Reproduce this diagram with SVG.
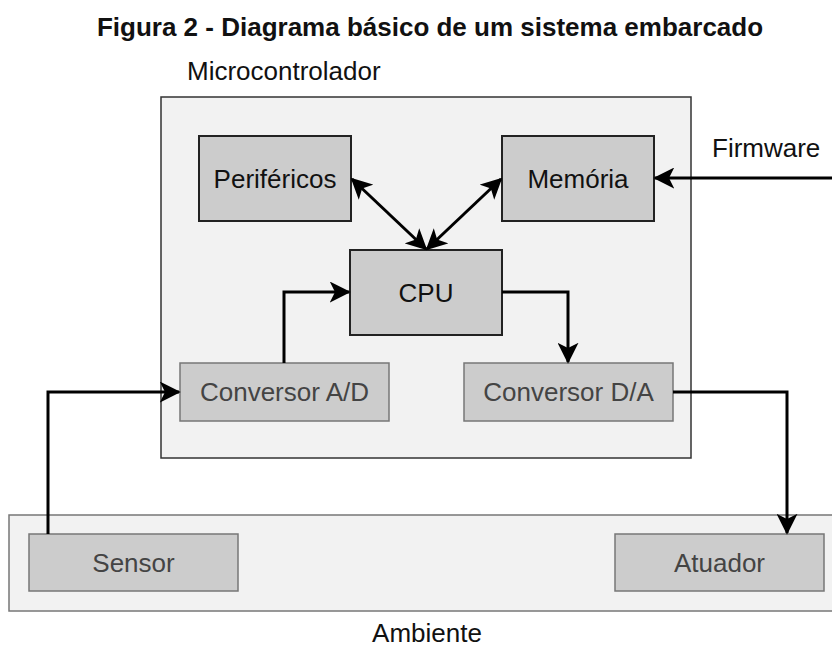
<svg xmlns="http://www.w3.org/2000/svg" width="832" height="648" viewBox="0 0 832 648">
  <style>
    text { font-family: "Liberation Sans", Arial, sans-serif; }
    .title { font-size: 26px; font-weight: bold; fill: #111; }
    .caption { font-size: 26px; fill: #111; }
    .label { font-size: 26px; text-anchor: middle; }
    .group { fill: #f2f2f2; stroke: #333; stroke-width: 1.5; }
    .group-light { fill: #f2f2f2; stroke: #777; stroke-width: 1.5; }
    .block { fill: #cccccc; stroke: #222; stroke-width: 2; }
    .block-light { fill: #cccccc; stroke: #777; stroke-width: 1.5; }
    .dark-text { fill: #111; }
    .light-text { fill: #444; }
    .wire { fill: none; stroke: #000; stroke-width: 3; }
  </style>
  <defs>
    <marker id="arrow" viewBox="0 0 12 12" refX="11" refY="6" markerWidth="7" markerHeight="7" markerUnits="strokeWidth" orient="auto-start-reverse">
      <path d="M0,0 L12,6 L0,12 L3,6 Z" fill="#000"/>
    </marker>
  </defs>

  <rect width="832" height="648" fill="#fff"/>

  <text class="title" x="430" y="36" text-anchor="middle">Figura 2 - Diagrama básico de um sistema embarcado</text>

  <!-- containers -->
  <g id="microcontrolador">
    <rect class="group" x="161" y="97" width="530" height="361"/>
    <text class="caption" x="187" y="80">Microcontrolador</text>
  </g>
  <g id="ambiente">
    <rect class="group-light" x="9" y="515" width="830" height="96"/>
    <text class="caption" x="427" y="642" text-anchor="middle">Ambiente</text>
  </g>

  <!-- blocks -->
  <g id="perifericos">
    <rect class="block" x="199" y="136" width="152" height="85"/>
    <text class="label dark-text" x="275" y="188">Periféricos</text>
  </g>
  <g id="memoria">
    <rect class="block" x="502" y="136" width="152" height="85"/>
    <text class="label dark-text" x="578" y="188">Memória</text>
  </g>
  <g id="cpu">
    <rect class="block" x="350" y="250" width="152" height="85"/>
    <text class="label dark-text" x="426" y="302">CPU</text>
  </g>
  <g id="conversor-ad">
    <rect class="block-light" x="180" y="363" width="209" height="58"/>
    <text class="label light-text" x="284.5" y="401">Conversor A/D</text>
  </g>
  <g id="conversor-da">
    <rect class="block-light" x="464" y="363" width="209" height="58"/>
    <text class="label light-text" x="568.5" y="401">Conversor D/A</text>
  </g>
  <g id="sensor">
    <rect class="block-light" x="29" y="534" width="209" height="57"/>
    <text class="label light-text" x="133.5" y="572">Sensor</text>
  </g>
  <g id="atuador">
    <rect class="block-light" x="615" y="534" width="209" height="57"/>
    <text class="label light-text" x="719.5" y="572">Atuador</text>
  </g>
  <g id="firmware">
    <text class="caption" x="712" y="157">Firmware</text>
  </g>

  <!-- connectors -->
  <g id="connectors">
    <path class="wire" d="M48,534 V392 H179" marker-end="url(#arrow)"/>
    <path class="wire" d="M284,363 V292 H349" marker-end="url(#arrow)"/>
    <path class="wire" d="M502,292 H568 V362" marker-end="url(#arrow)"/>
    <path class="wire" d="M673,392 H787 V533" marker-end="url(#arrow)"/>
    <path class="wire" d="M832,178 H655" marker-end="url(#arrow)"/>
    <path class="wire" d="M352,179 L426,249" marker-start="url(#arrow)" marker-end="url(#arrow)"/>
    <path class="wire" d="M501,179 L427,249" marker-start="url(#arrow)" marker-end="url(#arrow)"/>
  </g>
</svg>
